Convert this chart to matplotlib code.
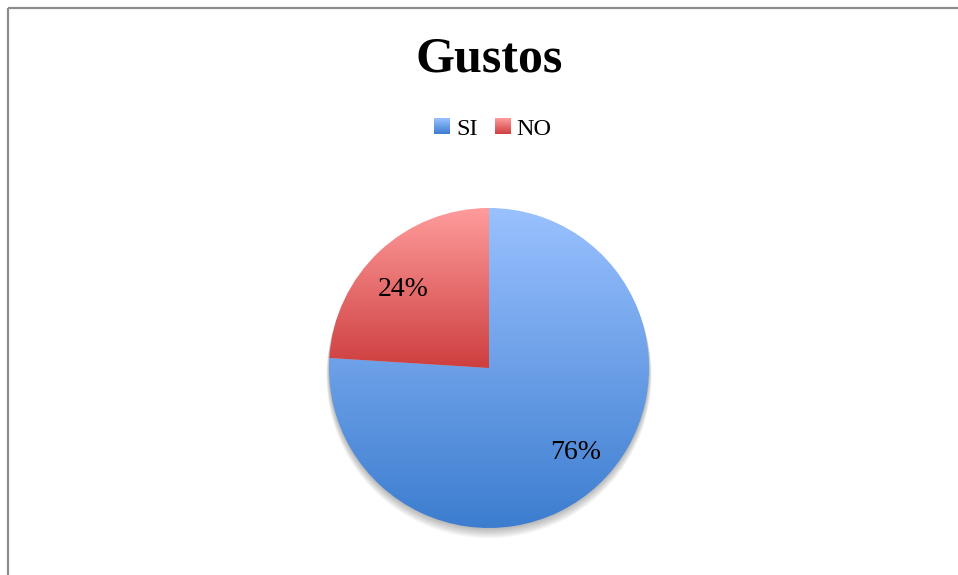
import numpy as np
import matplotlib
matplotlib.use("Agg")
import matplotlib.pyplot as plt
from matplotlib.patches import Patch, Circle
from matplotlib.colors import LinearSegmentedColormap

categories = ["SI", "NO"]
values = [76, 24]
title = "Gustos"

# top/bottom colours of each slice's vertical gradient
grad_top = ["#9ac1ff", "#ff9c9c"]
grad_bottom = ["#3c7dcf", "#ce3f3f"]
legend_colors = ["#6a9ee6", "#e86a6a"]

SERIF = "Liberation Serif"
W, H = 958, 575
fig = plt.figure(figsize=(W / 100, H / 100), dpi=100)
fig.patch.set_facecolor("white")

# frame lines on the left and top edge (pixel coordinates, y downwards)
frame = fig.add_axes([0, 0, 1, 1])
frame.set_xlim(0, W)
frame.set_ylim(H, 0)
frame.axis("off")
frame.plot([8, 8], [8, H], color="#8c8c8c", lw=1.6, solid_capstyle="butt")
frame.plot([8, W], [8, 8], color="#8c8c8c", lw=1.6, solid_capstyle="butt")

# pie area: 320 px disc centred at (489, 368)
cx, cy, R = 489, 368, 160
ax = fig.add_axes([(cx - R - 20) / W, (H - cy - R - 20) / H, (2 * R + 40) / W, (2 * R + 40) / H])
lim = (R + 20) / R

# soft drop shadow under the disc
for k in range(1, 9):
    ax.add_patch(Circle((0, -k * 0.006), 1.0 + k * 0.002, color="black",
                        alpha=0.035, lw=0, zorder=0))

pct_dist = 0.74
wedges, texts, autotexts = ax.pie(
    values, startangle=90, counterclock=False, radius=1.0,
    autopct="%1.0f%%", pctdistance=pct_dist,
    textprops=dict(fontsize=20, family=SERIF, color="black"),
    wedgeprops=dict(linewidth=0),
)
ax.set_aspect("equal")
ax.axis("off")

grad = np.linspace(0, 1, 256).reshape(-1, 1)
for w, ctop, cbot in zip(wedges, grad_top, grad_bottom):
    verts = w.get_path().vertices
    ext = w.get_patch_transform().transform(verts)
    x0, x1 = ext[:, 0].min(), ext[:, 0].max()
    y0, y1 = ext[:, 1].min(), ext[:, 1].max()
    cmap = LinearSegmentedColormap.from_list("g", [ctop, cbot])
    im = ax.imshow(grad, cmap=cmap, extent=(x0, x1, y0, y1), origin="upper",
                   aspect="auto", zorder=1, interpolation="bilinear")
    im.set_clip_path(w)
    w.set_facecolor("none")

# percentage labels sit slightly counter-clockwise of each slice's bisector
for w, t in zip(wedges, autotexts):
    ang = np.deg2rad((w.theta1 + w.theta2) / 2 + 3.5)
    t.set_position((pct_dist * np.cos(ang), pct_dist * np.sin(ang)))
    t.set_verticalalignment("center_baseline")
    t.set_zorder(3)

ax.set_xlim(-lim, lim)
ax.set_ylim(-lim, lim)

fig.text(489 / W, 1 - 59 / H, title, ha="center", va="center",
         fontsize=36, fontweight="bold", family=SERIF)

handles = [Patch(facecolor=c, edgecolor="none") for c in legend_colors]
leg = fig.legend(handles, categories, loc="center", bbox_to_anchor=(493 / W, 1 - 129 / H),
                 ncol=2, frameon=False, handlelength=0.62, handleheight=0.62,
                 handletextpad=0.28, columnspacing=0.7,
                 prop=dict(family=SERIF, size=17.5))

# give the legend keys the same vertical gradient as the slices
fig.canvas.draw()
for patch, ctop, cbot in zip(leg.get_patches(), grad_top, grad_bottom):
    bb = patch.get_window_extent()
    patch.set_visible(False)
    cmap = LinearSegmentedColormap.from_list("g", [ctop, cbot])
    frame.imshow(grad, cmap=cmap, extent=(bb.x0, bb.x1, H - bb.y0, H - bb.y1),
                 origin="upper", aspect="auto", interpolation="bilinear", zorder=2)
frame.set_xlim(0, W)
frame.set_ylim(H, 0)

fig.savefig("out.png", dpi=100)
